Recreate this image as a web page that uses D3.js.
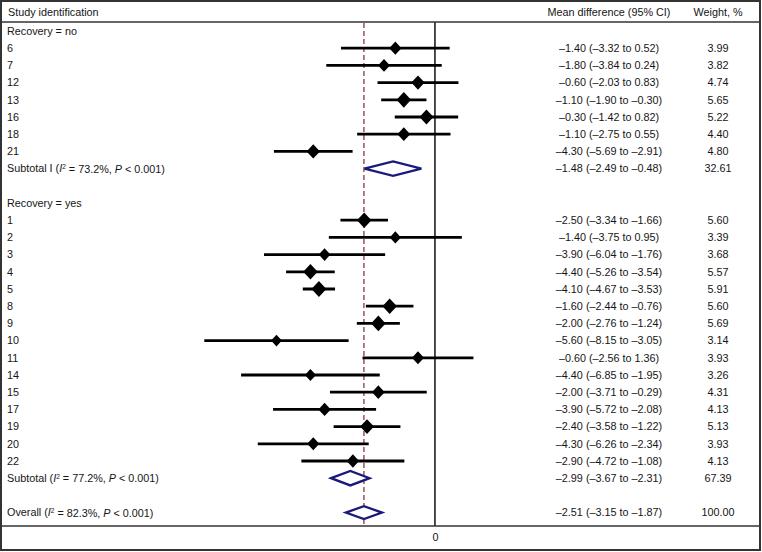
<!DOCTYPE html>
<html lang="en">
<head>
<meta charset="UTF-8">
<title>Forest plot</title>
<style>
  body { margin: 0; background: #fff; }
  svg { display: block; }
  text { font-family: "Liberation Sans", Arial, sans-serif; font-size: 10.8px; fill: #151515; }
</style>
</head>
<body>
<div id="chart"></div>
<script src="https://cdnjs.cloudflare.com/ajax/libs/d3/7.8.5/d3.min.js"></script>
<script>
// group 1: recovery = no
const noStudies = ["6", "7", "12", "13", "16", "18", "21"];
const noMd     = [-1.40, -1.80, -0.60, -1.10, -0.30, -1.10, -4.30];
const noLo     = [-3.32, -3.84, -2.03, -1.90, -1.42, -2.75, -5.69];
const noHi     = [0.52, 0.24, 0.83, -0.30, 0.82, 0.55, -2.91];
const noWeight = [3.99, 3.82, 4.74, 5.65, 5.22, 4.40, 4.80];

// group 2: recovery = yes
const yesStudies = ["1", "2", "3", "4", "5", "8", "9", "10", "11", "14", "15", "17", "19", "20", "22"];
const yesMd     = [-2.50, -1.40, -3.90, -4.40, -4.10, -1.60, -2.00, -5.60, -0.60, -4.40, -2.00, -3.90, -2.40, -4.30, -2.90];
const yesLo     = [-3.34, -3.75, -6.04, -5.26, -4.67, -2.44, -2.76, -8.15, -2.56, -6.85, -3.71, -5.72, -3.58, -6.26, -4.72];
const yesHi     = [-1.66, 0.95, -1.76, -3.54, -3.53, -0.76, -1.24, -3.05, 1.36, -1.95, -0.29, -2.08, -1.22, -2.34, -1.08];
const yesWeight = [5.60, 3.39, 3.68, 5.57, 5.91, 5.60, 5.69, 3.14, 3.93, 3.26, 4.31, 4.13, 5.13, 3.93, 4.13];

// pooled estimates: subtotal no, subtotal yes, overall
const pooledMd     = [-1.48, -2.99, -2.51];
const pooledLo     = [-2.49, -3.67, -3.15];
const pooledHi     = [-0.48, -2.31, -1.87];
const pooledWeight = ["32.61", "67.39", "100.00"];
const pooledI2     = ["73.2%", "77.2%", "82.3%"];
const pooledP      = ["0.001", "0.001", "0.001"];

const xTicks = [0];

const W = 762, H = 552;
const svg = d3.select("#chart").append("svg").attr("width", W).attr("height", H);

const x = d3.scaleLinear().domain([-8.5, 1.5]).range([194.4, 477.4]);
const rowY = i => 31 + i * 17.2;
const minus = v => (v < 0 ? "\u2013" : "") + Math.abs(v).toFixed(2);
const ciText = (m, l, h) => `${minus(m)} (${minus(l)} to ${minus(h)})`;

// build row list
const rows = [];
rows.push({ type: "head", label: "Recovery = no" });
noStudies.forEach((s, i) => rows.push({ type: "study", label: s, md: noMd[i], lo: noLo[i], hi: noHi[i], w: noWeight[i] }));
rows.push({ type: "pool", label: "Subtotal I", k: 0 });
rows.push({ type: "blank" });
rows.push({ type: "head", label: "Recovery = yes" });
yesStudies.forEach((s, i) => rows.push({ type: "study", label: s, md: yesMd[i], lo: yesLo[i], hi: yesHi[i], w: yesWeight[i] }));
rows.push({ type: "pool", label: "Subtotal", k: 1 });
rows.push({ type: "blank" });
rows.push({ type: "pool", label: "Overall", k: 2 });

const yTop = 22, yBottom = 526;

// reference lines
svg.append("line")
  .attr("x1", x(pooledMd[2])).attr("x2", x(pooledMd[2]))
  .attr("y1", yTop + 1).attr("y2", yBottom)
  .attr("stroke", "#8b3a45").attr("stroke-width", 1.3)
  .attr("stroke-dasharray", "5,3");

svg.append("line")
  .attr("x1", x(0)).attr("x2", x(0))
  .attr("y1", yTop).attr("y2", yBottom)
  .attr("stroke", "#111").attr("stroke-width", 1.5);

// header
svg.append("text").attr("x", 8).attr("y", 12).attr("dy", "0.35em").text("Study identification");
svg.append("text").attr("x", 609).attr("y", 12).attr("dy", "0.35em").attr("text-anchor", "middle").text("Mean difference (95% CI)");
svg.append("text").attr("x", 718).attr("y", 12).attr("dy", "0.35em").attr("text-anchor", "middle").text("Weight, %");

rows.forEach((r, i) => {
  const y = rowY(i);
  if (r.type === "blank") return;
  if (r.type === "head") {
    svg.append("text").attr("x", 7).attr("y", y).attr("dy", "0.35em").text(r.label);
    return;
  }
  if (r.type === "study") {
    svg.append("text").attr("x", 7).attr("y", y).attr("dy", "0.35em").text(r.label);
    svg.append("line")
      .attr("x1", x(r.lo)).attr("x2", x(r.hi)).attr("y1", y).attr("y2", y)
      .attr("stroke", "#000").attr("stroke-width", 2.8);
    const hw = 3.05 * Math.sqrt(r.w), hh = hw * 1.08;
    const cx = x(r.md);
    svg.append("path")
      .attr("d", `M${cx - hw},${y}L${cx},${y - hh}L${cx + hw},${y}L${cx},${y + hh}Z`)
      .attr("fill", "#000");
    svg.append("text").attr("x", 609).attr("y", y).attr("dy", "0.35em").attr("text-anchor", "middle")
      .text(ciText(r.md, r.lo, r.hi));
    svg.append("text").attr("x", 718).attr("y", y).attr("dy", "0.35em").attr("text-anchor", "middle")
      .text(r.w.toFixed(2));
    return;
  }
  // pooled row
  const k = r.k;
  const t = svg.append("text").attr("x", 7).attr("y", y).attr("dy", "0.35em");
  t.append("tspan").text(r.label + " (");
  t.append("tspan").attr("font-style", "italic").text("I");
  t.append("tspan").attr("font-size", "6.5px").attr("dy", "-0.45em").text("2");
  t.append("tspan").attr("dy", "0.3em").text(` = ${pooledI2[k]}, `);
  t.append("tspan").attr("font-style", "italic").text("P");
  t.append("tspan").text(` < ${pooledP[k]})`);

  const hh = k === 2 ? 6.5 : 7.2;
  const xl = x(pooledLo[k]), xm = x(pooledMd[k]), xr = x(pooledHi[k]);
  svg.append("path")
    .attr("d", `M${xl},${y}L${xm},${y - hh}L${xr},${y}L${xm},${y + hh}Z`)
    .attr("fill", "#fff").attr("stroke", "#1a1a7a").attr("stroke-width", 2.3)
    .attr("stroke-linejoin", "miter");
  svg.append("text").attr("x", 609).attr("y", y).attr("dy", "0.35em").attr("text-anchor", "middle")
    .text(ciText(pooledMd[k], pooledLo[k], pooledHi[k]));
  svg.append("text").attr("x", 718).attr("y", y).attr("dy", "0.35em").attr("text-anchor", "middle")
    .text(pooledWeight[k]);
});

// axis
const axis = d3.axisBottom(x).tickValues(xTicks).tickSize(0).tickFormat(d3.format("d"));
const gAxis = svg.append("g").attr("transform", `translate(0,${yBottom})`).call(axis);
gAxis.select(".domain").remove();
gAxis.selectAll("text").attr("dy", "0").attr("y", 15).style("font-size", "10.8px").style("fill", "#151515")
  .style("font-family", "'Liberation Sans', Arial, sans-serif");

// frame lines
svg.append("line").attr("x1", 1).attr("x2", W - 2).attr("y1", yTop).attr("y2", yTop)
  .attr("stroke", "#333").attr("stroke-width", 1.5);
svg.append("line").attr("x1", 1).attr("x2", W - 2).attr("y1", yBottom).attr("y2", yBottom)
  .attr("stroke", "#333").attr("stroke-width", 1.5);
svg.append("rect").attr("x", 1).attr("y", 1).attr("width", W - 3).attr("height", H - 3)
  .attr("fill", "none").attr("stroke", "#333").attr("stroke-width", 2);
</script>
</body>
</html>
